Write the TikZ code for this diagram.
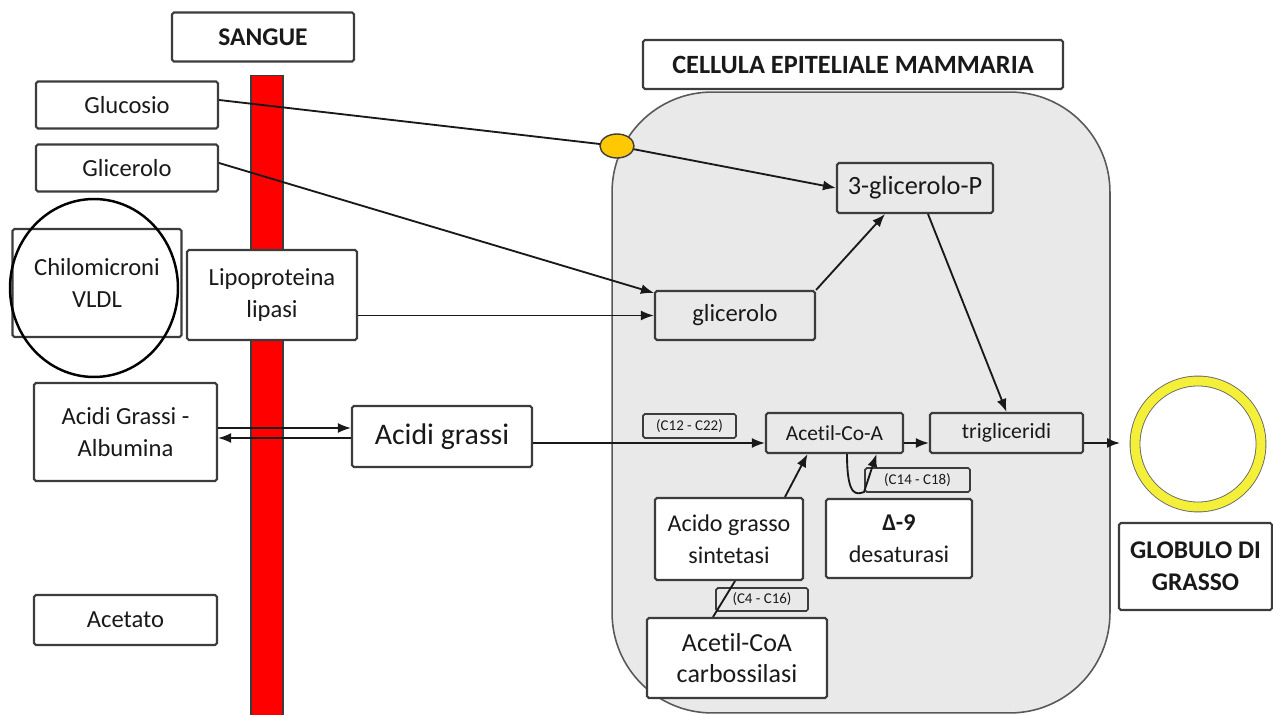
\documentclass[tikz,border=0pt]{standalone}
\usepackage{fontspec}
\setmainfont{Carlito}[Ligatures=NoCommon]
\usetikzlibrary{positioning,shapes,arrows.meta}

\definecolor{CELL_GREY}{HTML}{E9E9E9}
\definecolor{LINE_GREY}{HTML}{3C3C3C}
\definecolor{PORT_YELLOW}{HTML}{FFC800}
\definecolor{RING_YELLOW}{HTML}{F4F03A}
\tikzstyle{layer} = [rectangle, draw=LINE_GREY, line width=1.2pt, rounded corners=1pt, inner sep=0pt, align=center, text=black!90, font=\fontsize{14}{18}\selectfont]
\tikzstyle{white_box} = [layer, fill=white]
\tikzstyle{grey_box}  = [layer, fill=CELL_GREY]
\tikzstyle{title_box} = [white_box, font=\fontsize{14.5}{18}\selectfont\bfseries]
\tikzstyle{tag}  = [grey_box, line width=1pt, font=\fontsize{8.5}{10}\selectfont]
\tikzstyle{flow} = [line width=1.05pt, black!90, -{Latex[length=2.6mm,width=2mm]}]
\tikzstyle{link} = [line width=1.05pt, black!90]

\begin{document}
\begin{tikzpicture}[x=0.02cm, y=-0.02cm]
      \useasboundingbox (0,0) rectangle (1273,715);

      %%%%%%%%%%%%%%%%%%%%%%%%%%%%%%%%%%%%%%%%%%%%%%%%%
      % SANGUE
      %%%%%%%%%%%%%%%%%%%%%%%%%%%%%%%%%%%%%%%%%%%%%%%%%
      \node[title_box, minimum width=3.64cm, minimum height=0.98cm] (SANGUE) at (263,37) {SANGUE};
      \node[rectangle, draw=LINE_GREY, fill=red, line width=0.8pt, minimum width=0.64cm, minimum height=12.9cm, anchor=north] (BLOOD) at (267,75) {};

      \node[white_box, minimum width=3.64cm, minimum height=0.94cm] (GLU) at (127,105) {Glucosio};
      \node[white_box, minimum width=3.64cm, minimum height=0.94cm] (GLY) at (127,168) {Glicerolo};
      \node[white_box, minimum width=3.38cm, minimum height=2.16cm] (CHILO) at (97,283) {Chilomicroni\\VLDL};
      \node[ellipse, draw=black, line width=1.4pt, minimum width=3.36cm, minimum height=3.56cm] (CHILO_RING) at (94,288) {};
      \node[white_box, minimum width=3.4cm, minimum height=1.8cm] (LPL) at (272,295) {Lipoproteina\\lipasi};
      \node[white_box, minimum width=3.66cm, minimum height=1.96cm] (ALB) at (125.5,432) {Acidi Grassi -\\Albumina};
      \node[white_box, minimum width=3.66cm, minimum height=1cm] (ACET) at (125.5,620) {Acetato};
      \node[white_box, minimum width=3.6cm, minimum height=1.22cm, font=\fontsize{17}{20}\selectfont] (AG) at (442,436.5) {Acidi grassi};

      %%%%%%%%%%%%%%%%%%%%%%%%%%%%%%%%%%%%%%%%%%%%%%%%%
      % CELLULA
      %%%%%%%%%%%%%%%%%%%%%%%%%%%%%%%%%%%%%%%%%%%%%%%%%
      \node[title_box, font=\fontsize{15}{18}\selectfont\bfseries, minimum width=8.4cm, minimum height=0.98cm] (CELL_TITLE) at (853,64.5) {CELLULA EPITELIALE MAMMARIA};
      \node[rectangle, draw=gray!70!black, fill=CELL_GREY, line width=0.9pt, rounded corners=2cm, minimum width=9.96cm, minimum height=12.42cm] (CELL) at (861,402.5) {};
      \coordinate (PORT_C) at (617,146);

      \node[grey_box, minimum width=3.12cm, minimum height=1cm, font=\fontsize{15}{18}\selectfont] (GP) at (915,188) {3-glicerolo-P};
      \node[grey_box, minimum width=3.2cm, minimum height=0.98cm] (GLI) at (735,315.5) {glicerolo};
      \node[tag, minimum width=1.86cm, minimum height=0.48cm] (T1) at (689.5,426) {(C12 - C22)};
      \node[grey_box, minimum width=2.74cm, minimum height=0.8cm, font=\fontsize{12.2}{15}\selectfont] (ACA) at (834.5,433) {Acetil-Co-A};
      \node[grey_box, minimum width=3.06cm, minimum height=0.8cm, font=\fontsize{12.4}{15}\selectfont] (TRIG) at (1006.5,433) {trigliceridi};
      \node[tag, minimum width=2.1cm, minimum height=0.48cm] (T2) at (917.5,480) {(C14 - C18)};
      \node[white_box, minimum width=2.96cm, minimum height=1.64cm, font=\fontsize{13.7}{18}\selectfont] (AGS) at (729,539) {Acido grasso\\sintetasi};
      \node[white_box, minimum width=2.92cm, minimum height=1.58cm, font=\fontsize{13.7}{18}\selectfont] (DES) at (899,538.5) {\textbf{Δ-9}\\desaturasi};
      \node[tag, minimum width=1.84cm, minimum height=0.46cm] (T3) at (762,599.5) {(C4 - C16)};
      \node[white_box, minimum width=3.6cm, minimum height=1.6cm, font=\fontsize{14.8}{18}\selectfont] (ACC) at (737,658) {Acetil-CoA\\carbossilasi};

      %%%%%%%%%%%%%%%%%%%%%%%%%%%%%%%%%%%%%%%%%%%%%%%%%
      % GLOBULO
      %%%%%%%%%%%%%%%%%%%%%%%%%%%%%%%%%%%%%%%%%%%%%%%%%
      \node[circle, inner sep=0pt, minimum size=2.52cm, draw=gray!80!black, line width=0.5pt, double=RING_YELLOW, double distance=0.18cm] (RING) at (1198,444) {};
      \node[title_box, minimum width=3.06cm, minimum height=1.74cm] (GLOB) at (1195.5,566.5) {GLOBULO DI\\GRASSO};
      \coordinate (GLOB_IN) at (1120,443);

      % connectors
      \draw[link] ([yshift=0.1cm]GLU.east) -- (PORT_C);
      \draw[flow] (PORT_C) -- (GP.west);
      \draw[flow] ([yshift=0.1cm]GLY.east) -- ([yshift=-0.06cm]GLI.north west);
      \draw[flow] (LPL.east |- GLI.west) -- (GLI.west);
      \draw[flow] (GLI.north east) -- ([xshift=-0.6cm]GP.south);
      \draw[flow] ([xshift=0.26cm]GP.south) -- (TRIG.north);
      \draw[flow] ([yshift=0.08cm]ALB.east) -- ([yshift=0.08cm]ALB.east -| AG.west);
      \draw[flow] ([yshift=-0.12cm]ALB.east -| AG.west) -- ([yshift=-0.12cm]ALB.east);
      \draw[flow] ([yshift=-0.2cm]ACA.west -| AG.east) -- ([yshift=-0.2cm]ACA.west);
      \draw[flow] ([yshift=-0.2cm]ACA.east) -- ([yshift=-0.2cm]TRIG.west);
      \draw[flow] ([yshift=-0.2cm]TRIG.east) -- (GLOB_IN);
      \draw[flow] ([xshift=1.12cm]AGS.north) -- ([xshift=-0.54cm]ACA.south);
      \draw[link] ([xshift=-0.48cm]ACC.north) -- ([xshift=0.12cm]AGS.south);
      \draw[flow] ([xshift=0.25cm]ACA.south) .. controls ([xshift=0.25cm,yshift=-0.9cm]ACA.south) and ([xshift=0.45cm,yshift=-0.8cm]ACA.south) .. ([xshift=0.59cm,yshift=-0.76cm]ACA.south) -- ([xshift=0.84cm]ACA.south);

      \node[ellipse, draw=LINE_GREY, fill=PORT_YELLOW, line width=0.8pt, minimum width=0.68cm, minimum height=0.48cm] (PORT) at (PORT_C) {};
\end{tikzpicture}
\end{document}
